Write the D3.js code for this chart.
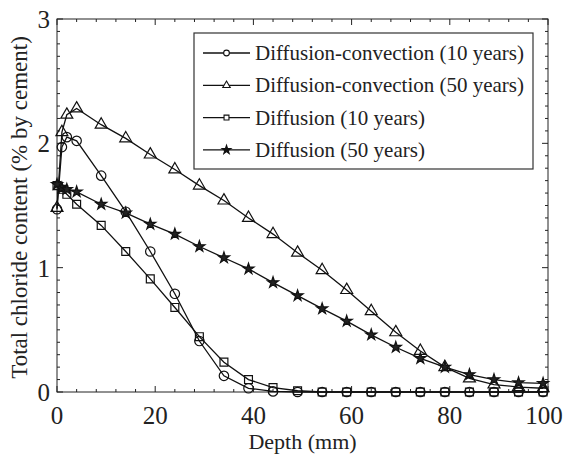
<!DOCTYPE html>
<html>
<head>
<meta charset="utf-8">
<script src="https://cdn.jsdelivr.net/npm/d3@7"></script>
<style>
  body { margin: 0; background: #fff; }
  text { font-family: "Liberation Serif", "Times New Roman", "DejaVu Serif", serif; fill: #222; }
</style>
</head>
<body>
<div id="chart"></div>
<script>
// depth (mm) sampled by the model
var depth = [0, 1, 2, 4, 9, 14, 19, 24, 29, 34, 39, 44, 49, 54, 59, 64, 69, 74, 79, 84, 89, 94, 99];

var dc10 = [1.47, 1.97, 2.05, 2.02, 1.74, 1.45, 1.13, 0.79, 0.41, 0.13, 0.03, 0.005, 0, 0, 0, 0, 0, 0, 0, 0, 0, 0, 0];
var dc50 = [1.48, 2.09, 2.23, 2.28, 2.15, 2.04, 1.91, 1.79, 1.66, 1.54, 1.40, 1.27, 1.12, 0.98, 0.82, 0.65, 0.48, 0.33, 0.20, 0.11, 0.06, 0.04, 0.03];
var d10 = [1.66, 1.63, 1.59, 1.51, 1.34, 1.13, 0.91, 0.68, 0.445, 0.24, 0.10, 0.035, 0.01, 0, 0, 0, 0, 0, 0, 0, 0, 0, 0];
var d50 = [1.67, 1.64, 1.63, 1.61, 1.51, 1.44, 1.35, 1.27, 1.17, 1.08, 0.99, 0.88, 0.775, 0.67, 0.57, 0.46, 0.36, 0.27, 0.20, 0.14, 0.10, 0.075, 0.07];

var seriesNames = ["Diffusion-convection (10 years)", "Diffusion-convection (50 years)", "Diffusion (10 years)", "Diffusion (50 years)"];
var xTicks = [0, 20, 40, 60, 80, 100];
var yTicks = [0, 1, 2, 3];

var width = 564, height = 458;
var pLeft = 57, pRight = 548, pTop = 19, pBottom = 392;

var svg = d3.select("#chart").append("svg")
    .attr("width", width)
    .attr("height", height);

var x = d3.scaleLinear().domain([0, 100]).range([pLeft, pRight]);
var y = d3.scaleLinear().domain([0, 3]).range([pBottom, pTop]);

var series = [
    {name: seriesNames[0], values: dc10, shape: "circle"},
    {name: seriesNames[1], values: dc50, shape: "triangle"},
    {name: seriesNames[2], values: d10, shape: "square"},
    {name: seriesNames[3], values: d50, shape: "star"}
];

// minor ticks every 4 mm / 0.1, majors longer, all inward on every side
var xMinor = d3.range(0, 101, 4);
var yMinor = d3.range(0, 31).map(function(i) { return i / 10; });
var axes = svg.append("g").attr("stroke", "#222").attr("stroke-width", 1);

xMinor.forEach(function(v) {
    var len = (v % 20 === 0) ? 6 : 3;
    axes.append("line").attr("x1", x(v)).attr("x2", x(v)).attr("y1", pBottom).attr("y2", pBottom - len);
    axes.append("line").attr("x1", x(v)).attr("x2", x(v)).attr("y1", pTop).attr("y2", pTop + len);
});
yMinor.forEach(function(v) {
    var len = (Math.abs(v - Math.round(v)) < 1e-6) ? 6 : 3;
    axes.append("line").attr("y1", y(v)).attr("y2", y(v)).attr("x1", pLeft).attr("x2", pLeft + len);
    axes.append("line").attr("y1", y(v)).attr("y2", y(v)).attr("x1", pRight).attr("x2", pRight - len);
});
axes.append("rect")
    .attr("x", pLeft).attr("y", pTop)
    .attr("width", pRight - pLeft).attr("height", pBottom - pTop)
    .attr("fill", "none");

svg.selectAll(".xlab").data(xTicks).enter().append("text")
    .attr("class", "xlab")
    .attr("x", function(d) { return x(d); })
    .attr("dx", function(d, i) { return i === xTicks.length - 1 ? -4 : 0; })  // keep "100" inside the window
    .attr("y", pBottom + 32)
    .attr("text-anchor", "middle")
    .style("font-size", "25px")
    .text(function(d) { return d; });

svg.selectAll(".ylab").data(yTicks).enter().append("text")
    .attr("class", "ylab")
    .attr("x", pLeft - 7)
    .attr("y", function(d) { return y(d) + 9; })
    .attr("text-anchor", "end")
    .style("font-size", "25px")
    .text(function(d) { return d; });

svg.append("text")
    .attr("x", (pLeft + pRight) / 2)
    .attr("y", 449)
    .attr("text-anchor", "middle")
    .style("font-size", "22px")
    .text("Depth (mm)");

svg.append("text")
    .attr("transform", "translate(27," + ((pTop + pBottom) / 2 + 2) + ") rotate(-90)")
    .attr("text-anchor", "middle")
    .style("font-size", "23px")
    .text("Total chloride content (% by cement)");

var shapes = {
    circle: d3.symbolCircle,
    triangle: d3.symbolTriangle,
    square: d3.symbolSquare,
    star: d3.symbolStar
};
var sizes = {circle: 70, triangle: 62, square: 62, star: 38};
var legendSizes = {circle: 26, triangle: 24, square: 24, star: 24};

var line = d3.line()
    .x(function(d) { return x(d[0]); })
    .y(function(d) { return y(d[1]); });

series.forEach(function(s) {
    var pts = depth.map(function(d, i) { return [d, s.values[i]]; });
    var g = svg.append("g");
    g.append("path")
        .attr("d", line(pts))
        .attr("fill", "none")
        .attr("stroke", "#111")
        .attr("stroke-width", 1.3);
    g.selectAll("path.mark").data(pts).enter().append("path")
        .attr("class", "mark")
        .attr("transform", function(d) { return "translate(" + x(d[0]) + "," + y(d[1]) + ")"; })
        .attr("d", d3.symbol().type(shapes[s.shape]).size(sizes[s.shape]))
        .attr("fill", s.shape === "star" ? "#222" : "none")
        .attr("stroke", "#111")
        .attr("stroke-width", 1.2);
});

// legend
var lg = svg.append("g");
lg.append("rect")
    .attr("x", 194).attr("y", 33)
    .attr("width", 339).attr("height", 136)
    .attr("fill", "#fff")
    .attr("stroke", "#333")
    .attr("stroke-width", 1.2);

series.forEach(function(s, i) {
    var ly = 53 + i * 32.3;
    lg.append("line")
        .attr("x1", 203).attr("x2", 250)
        .attr("y1", ly).attr("y2", ly)
        .attr("stroke", "#111").attr("stroke-width", 1.3);
    lg.append("path")
        .attr("transform", "translate(226.5," + ly + ")")
        .attr("d", d3.symbol().type(shapes[s.shape]).size(legendSizes[s.shape]))
        .attr("fill", s.shape === "star" ? "#111" : "#fff")
        .attr("stroke", "#111")
        .attr("stroke-width", 1.1);
    lg.append("text")
        .attr("x", 255)
        .attr("y", ly + 7)
        .style("font-size", "21px")
        .text(s.name);
});
</script>
</body>
</html>
